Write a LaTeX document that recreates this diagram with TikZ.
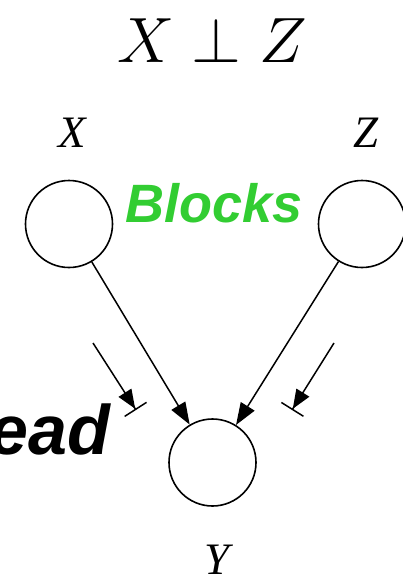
\RequirePackage{fix-cm}
\documentclass[tikz,border=0pt]{standalone}
\usepackage{fontspec}
\setsansfont{Liberation Sans}
\newfontfamily\labelfont{Liberation Serif}
\usetikzlibrary{arrows.meta,positioning}
\definecolor{blockgreen}{RGB}{50,205,50}

\begin{document}
\begin{tikzpicture}[
    x=1pt, y=-1pt,
    var/.style={draw, circle, line width=1.6pt, minimum size=87pt, inner sep=0pt},
    varlabel/.style={font=\labelfont\itshape\fontsize{45}{45}\selectfont, inner sep=0pt},
    arrow/.style={-{Triangle[length=22pt,width=16pt]}, line width=1.5pt},
    blocked/.style={-{Triangle[length=19pt,width=15pt] Bar[width=26pt]}, line width=1.5pt}
  ]
    \useasboundingbox (0,0) rectangle (403,579);
    % title
    \node[inner sep=0pt, anchor=base, font=\fontsize{64}{64}\selectfont] (title) at (212,62) {$X \perp Z$};
    % variables
    \node[var] (x) at (69,224) {};
    \node[var] (z) at (362,224) {};
    \node[var] (y) at (212.5,462.5) {};
    \node[varlabel, above=32pt of x, anchor=base, xshift=3pt] (xlabel) {X};
    \node[varlabel, above=32pt of z, anchor=base, xshift=4pt] (zlabel) {Z};
    \node[varlabel, below=68pt of y, anchor=base, xshift=5pt] (ylabel) {Y};
    % words
    \node[inner sep=0pt, anchor=base, text=blockgreen,
      font=\sffamily\bfseries\itshape\fontsize{54}{54}\selectfont] (blocks) at (214,222) {Blocks};
    \node[inner sep=0pt, anchor=base east,
      font=\sffamily\bfseries\itshape\fontsize{70}{70}\selectfont] (ead) at (110,454) {ead};
    % edges
    \draw[arrow] (x) -- (y);
    \draw[arrow] (z) -- (y);
    % blocked flows
    \coordinate (lstart) at (93,343);
    \coordinate (lstop) at (136,410);
    \coordinate (rstart) at (334,343);
    \coordinate (rstop) at (292,410);
    \draw[blocked] (lstart) -- (lstop);
    \draw[blocked] (rstart) -- (rstop);
  \end{tikzpicture}
\end{document}
